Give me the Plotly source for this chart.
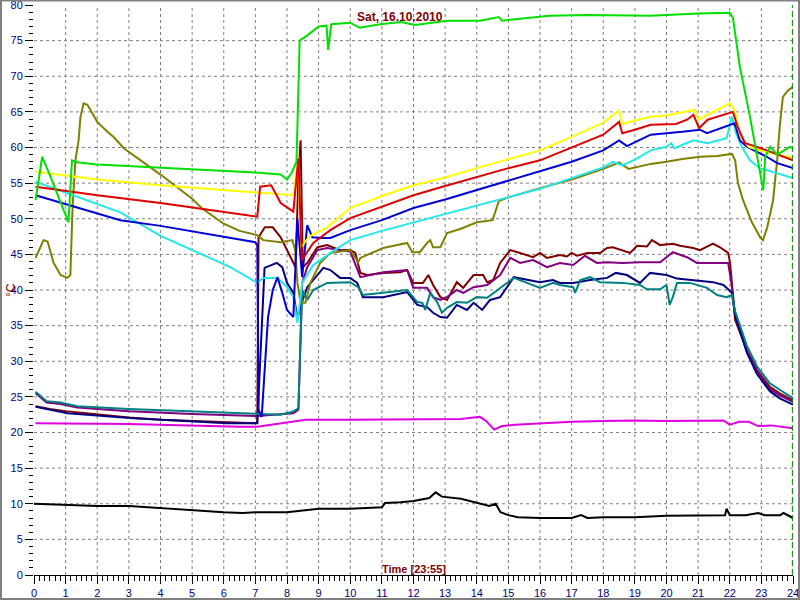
import plotly.graph_objects as go

# ---------------- data (hours, °C) ----------------
green_t = [0.05, 0.26, 0.52, 0.84, 1.09, 1.2, 1.4, 2, 3, 4, 5, 6, 7, 7.8, 8.0, 8.15, 8.3, 8.4, 8.6, 9.0, 9.25, 9.3, 9.4, 10.0, 10.3, 10.95, 11.6, 12.05, 12.6, 13.06, 14.1, 14.7, 14.8, 15.8, 16.3, 17.5, 19.5, 21.0, 22.0, 22.1, 22.32, 22.64, 23.06, 23.12, 23.28, 23.5, 23.7, 23.9, 24]
green_v = [52.6, 58.7, 55.9, 52.4, 49.5, 58.2, 57.9, 57.6, 57.4, 57.2, 57.0, 56.7, 56.5, 56.2, 55.5, 56.5, 58.0, 75.0, 75.6, 77.0, 77.1, 73.7, 77.3, 77.5, 76.8, 77.3, 77.6, 77.2, 77.5, 77.8, 77.8, 78.3, 77.8, 78.3, 78.5, 78.6, 78.5, 78.8, 78.9, 78.2, 71.3, 64.3, 54.0, 58.7, 60.1, 59.0, 59.6, 60.1, 59.9]

yellow_t = [0.05, 2, 4, 6, 7, 8.2, 8.35, 8.45, 8.7, 9.27, 10, 11, 12, 13, 14, 15, 16, 17, 18, 18.5, 18.6, 19, 19.5, 20, 20.9, 21.0, 21.5, 22.0, 22.15, 22.35, 22.6, 23, 23.5, 24]
yellow_v = [56.6, 55.5, 54.7, 54.0, 53.7, 53.3, 58.7, 46.0, 47.5, 48.8, 51.5, 53.2, 54.7, 55.8, 57.1, 58.3, 59.6, 61.5, 63.5, 65.2, 63.3, 63.8, 64.3, 64.5, 65.3, 63.9, 65.0, 66.2, 65.3, 61.5, 60.1, 59.5, 59.0, 58.6]

red_t = [0.05, 2, 4, 6, 6.9, 7.06, 7.15, 7.5, 7.8, 8.2, 8.36, 8.47, 8.83, 9.37, 10, 11, 12, 13, 14, 15, 16, 17, 18, 18.5, 18.6, 19, 19.5, 20.3, 20.65, 20.85, 21.03, 21.3, 22.0, 22.1, 22.25, 22.48, 22.64, 23.17, 24]
red_v = [54.5, 53.3, 52.2, 50.9, 50.4, 50.3, 54.5, 54.7, 52.2, 51.0, 58.5, 44.2, 46.6, 48.4, 50.1, 51.7, 53.3, 54.6, 55.9, 57.1, 58.2, 60.0, 61.8, 63.6, 62.0, 62.5, 63.2, 63.3, 63.9, 64.6, 62.7, 63.9, 64.8, 65.0, 62.9, 60.6, 60.4, 59.6, 58.2]

blue_t = [0.05, 2.73, 4, 6, 7.0, 7.06, 7.1, 7.2, 7.4, 7.55, 7.7, 7.85, 8.0, 8.2, 8.33, 8.48, 8.64, 8.8, 9.05, 9.37, 9.78, 10, 11, 12, 13, 14, 15, 16, 17, 18, 18.5, 18.75, 19.5, 20.5, 21.06, 21.28, 22.0, 22.15, 22.32, 22.54, 22.86, 23.17, 23.5, 24]
blue_v = [53.3, 49.8, 49.0, 47.5, 46.7, 46.3, 23.2, 22.2, 36.2, 40.0, 41.8, 39.6, 37.2, 36.2, 50.0, 41.8, 49.1, 47.4, 47.3, 47.3, 48.0, 48.4, 49.8, 51.5, 52.7, 54.0, 55.3, 56.6, 58.0, 59.6, 61.0, 60.2, 61.8, 62.2, 62.5, 62.0, 63.2, 63.4, 61.0, 60.1, 59.4, 58.7, 57.8, 57.1]

cyan_t = [0.05, 2.73, 4, 6.21, 7.06, 7.25, 7.7, 8.0, 8.2, 8.33, 8.48, 8.83, 9.37, 10, 11, 12, 13, 14, 15, 16, 17, 18, 18.3, 18.6, 19, 19.5, 20.0, 20.15, 20.25, 20.65, 20.85, 21.3, 21.9, 22.07, 22.2, 22.38, 22.64, 22.95, 23.5, 24]
cyan_v = [55.2, 50.9, 47.6, 43.2, 41.0, 41.7, 41.7, 40.4, 39.0, 35.4, 41.0, 43.5, 45.2, 47.0, 48.3, 49.5, 50.7, 51.9, 53.0, 54.2, 55.7, 57.2, 58.0, 57.5, 58.3, 59.6, 60.1, 60.6, 59.9, 60.6, 61.0, 60.6, 61.3, 64.3, 62.0, 60.1, 58.2, 57.1, 56.4, 55.7]

olive_t = [0.05, 0.3, 0.43, 0.62, 0.84, 1.05, 1.15, 1.22, 1.31, 1.41, 1.47, 1.57, 1.69, 2.0, 2.32, 2.51, 2.84, 4, 5, 5.3, 6, 6.5, 7.06, 7.25, 7.8, 8.17, 8.26, 8.33, 8.43, 8.58, 8.74, 9.05, 9.37, 10.0, 10.25, 10.32, 11.04, 11.8, 11.96, 12.2, 12.43, 12.53, 12.62, 12.85, 13.06, 13.5, 14, 14.5, 14.7, 15, 16, 17, 18, 18.5, 18.8, 19.5, 20, 20.5, 21.06, 21.6, 22.07, 22.17, 22.26, 22.42, 22.7, 22.96, 23.05, 23.18, 23.27, 23.37, 23.5, 23.58, 23.68, 23.84, 24]
olive_v = [44.5, 47.0, 46.8, 43.8, 42.1, 41.7, 42.1, 51.6, 58.2, 61.0, 64.3, 66.2, 66.0, 63.6, 62.2, 61.5, 59.9, 56.2, 52.8, 51.5, 49.3, 48.3, 47.7, 47.0, 46.7, 47.0, 45.6, 41.0, 38.2, 38.2, 41.0, 43.8, 45.2, 45.6, 43.9, 44.5, 45.9, 46.6, 45.3, 45.3, 46.6, 47.0, 46.0, 46.0, 48.0, 48.6, 49.5, 49.8, 52.5, 53.0, 54.3, 55.5, 57.0, 57.9, 57.0, 57.7, 58.0, 58.4, 58.7, 58.8, 59.1, 58.2, 55.0, 52.6, 49.5, 47.4, 47.0, 48.7, 50.5, 52.6, 58.2, 62.9, 67.1, 68.0, 68.5]

maroon_t = [0.05, 0.5, 1, 2, 3, 4, 5, 6, 7.0, 7.06, 7.1, 7.3, 7.55, 7.8, 8.0, 8.27, 8.36, 8.43, 8.5, 8.64, 8.96, 9.27, 9.68, 10.0, 10.16, 10.32, 10.54, 11.04, 11.58, 11.8, 11.99, 12.3, 12.47, 12.62, 12.85, 13.06, 13.37, 13.57, 13.9, 14.2, 14.33, 14.52, 14.74, 15.06, 15.37, 15.78, 16.0, 16.22, 16.63, 16.85, 17.0, 17.17, 17.5, 17.9, 18.12, 18.3, 18.85, 19.07, 19.38, 19.54, 19.8, 20.2, 20.43, 20.84, 21.06, 21.47, 21.69, 21.95, 22.01, 22.17, 22.54, 22.86, 23.27, 23.58, 24]
maroon_v = [23.7, 23.3, 23.0, 22.5, 22.1, 21.8, 21.6, 21.4, 21.3, 21.4, 47.4, 48.8, 48.8, 47.4, 45.6, 43.2, 55.9, 61.0, 43.2, 43.8, 46.0, 46.3, 45.6, 45.6, 45.2, 42.4, 42.1, 42.4, 42.5, 42.8, 41.0, 41.0, 42.1, 40.7, 39.0, 38.6, 41.1, 40.3, 42.1, 42.1, 41.1, 41.4, 43.8, 45.6, 45.2, 44.6, 45.2, 44.5, 44.9, 44.7, 45.2, 44.8, 45.2, 45.2, 45.9, 46.0, 45.2, 46.2, 46.1, 47.0, 46.3, 46.5, 46.2, 45.9, 45.6, 46.5, 46.0, 45.2, 43.8, 35.8, 31.6, 28.8, 26.4, 25.5, 24.5]

purple_t = [0.05, 0.4, 0.84, 1.37, 3, 5, 7.06, 8.2, 8.36, 8.48, 8.64, 8.96, 9.27, 9.68, 10.0, 10.32, 11.04, 11.8, 11.99, 12.43, 12.62, 12.85, 13.06, 13.37, 13.57, 13.9, 14.33, 14.74, 15.06, 15.37, 15.78, 16.22, 16.63, 17.05, 17.42, 17.8, 18.12, 18.6, 19.16, 19.8, 20.2, 20.65, 20.96, 21.47, 21.95, 22.05, 22.17, 22.54, 22.86, 23.27, 23.58, 24]
purple_v = [25.5, 24.2, 24.0, 23.5, 23.0, 22.6, 22.3, 22.7, 23.2, 41.0, 43.2, 45.6, 45.9, 45.6, 45.4, 41.8, 42.5, 42.8, 40.3, 40.3, 39.0, 38.6, 39.0, 40.0, 39.6, 40.4, 40.7, 42.1, 44.5, 43.8, 44.2, 43.2, 43.8, 43.5, 44.8, 43.8, 43.9, 43.8, 43.9, 43.9, 45.3, 44.6, 43.8, 43.8, 43.8, 41.0, 36.5, 31.4, 28.6, 26.1, 25.2, 24.3]

navy_t = [0.05, 1.06, 3.14, 6.1, 7.06, 7.15, 7.29, 7.68, 7.85, 8.0, 8.2, 8.33, 8.45, 8.64, 8.83, 9.15, 9.37, 9.68, 10.0, 10.22, 10.4, 11.04, 11.8, 12.12, 12.43, 12.62, 12.85, 13.06, 13.37, 13.69, 13.9, 14.17, 14.42, 14.74, 15.17, 15.59, 16.0, 16.41, 16.63, 17.05, 17.58, 18.12, 18.4, 18.75, 19.16, 19.48, 20.0, 20.33, 20.74, 21.47, 21.8, 22.07, 22.17, 22.54, 22.86, 23.27, 23.58, 24]
navy_v = [23.6, 22.7, 22.0, 21.3, 21.3, 30.0, 43.1, 43.8, 43.2, 41.0, 39.6, 36.0, 38.0, 40.4, 41.4, 43.1, 42.8, 41.7, 41.7, 41.0, 39.0, 39.0, 39.7, 37.9, 37.6, 36.8, 36.2, 36.1, 37.9, 37.2, 38.2, 37.2, 38.6, 39.0, 41.8, 41.4, 41.1, 41.4, 41.0, 41.0, 41.4, 41.7, 42.4, 42.1, 41.0, 42.4, 42.1, 41.6, 41.4, 41.1, 40.7, 39.6, 36.5, 31.2, 28.2, 25.8, 24.8, 23.9]

teal_t = [0.05, 0.4, 0.84, 1.37, 3, 5, 7.0, 7.78, 8.17, 8.36, 8.48, 8.64, 8.83, 9.27, 10.0, 10.25, 10.4, 11.04, 11.8, 12.12, 12.28, 12.37, 12.53, 12.75, 12.9, 13.06, 13.37, 13.69, 14.0, 14.33, 14.74, 15.17, 15.59, 16.0, 16.41, 16.63, 17.05, 17.11, 17.27, 17.58, 17.9, 18.62, 19.16, 19.38, 19.8, 20.0, 20.1, 20.2, 20.33, 20.74, 21.28, 21.6, 21.9, 22.07, 22.17, 22.54, 22.86, 23.27, 23.58, 24]
teal_v = [25.7, 24.4, 24.2, 23.7, 23.3, 23.0, 22.6, 22.5, 22.9, 23.4, 40.0, 38.6, 40.0, 41.0, 41.1, 40.4, 39.3, 39.6, 40.0, 38.3, 38.2, 37.2, 39.6, 38.3, 36.8, 37.5, 38.3, 38.2, 39.0, 38.9, 40.3, 41.7, 41.0, 40.3, 41.0, 40.7, 40.4, 39.6, 41.4, 41.8, 41.1, 41.0, 40.7, 40.1, 40.1, 40.7, 37.9, 39.0, 41.0, 41.0, 40.3, 39.3, 39.0, 39.3, 37.0, 32.2, 29.3, 26.9, 26.0, 24.8]

magenta_t = [0.05, 3, 6.5, 7.06, 7.5, 8.2, 8.6, 10, 12, 13.5, 14.1, 14.3, 14.55, 14.8, 15.2, 16, 17, 18, 19, 20, 21, 21.8, 22.0, 22.3, 22.6, 22.9, 23.3, 23.7, 24]
magenta_v = [21.3, 21.2, 20.8, 20.8, 21.1, 21.5, 21.8, 21.8, 21.8, 21.9, 22.2, 21.6, 20.4, 20.9, 21.1, 21.3, 21.5, 21.6, 21.7, 21.6, 21.7, 21.7, 21.1, 21.5, 21.5, 20.9, 21.0, 20.8, 20.6]

black_t = [0.0, 1, 2, 3, 4, 5, 6, 6.6, 7, 8, 9, 10, 11, 11.1, 11.6, 12.0, 12.5, 12.7, 12.9, 13.5, 14.1, 14.4, 14.6, 14.75, 15.0, 15.3, 16, 17, 17.3, 17.5, 18, 19, 20, 21, 21.85, 21.9, 22.0, 22.5, 22.9, 23.1, 23.6, 23.7, 24]
black_v = [10.0, 9.8, 9.7, 9.7, 9.4, 9.0, 8.8, 8.7, 8.8, 8.8, 9.3, 9.3, 9.5, 10.1, 10.2, 10.4, 10.8, 11.6, 11.0, 10.7, 10.1, 9.7, 10.0, 8.8, 8.4, 8.1, 8.0, 8.0, 8.4, 8.0, 8.1, 8.1, 8.3, 8.4, 8.4, 9.3, 8.4, 8.4, 8.7, 8.4, 8.4, 8.7, 8.0]

y_ticks = list(range(0, 85, 5))
x_ticks = list(range(0, 25))
title_text = "Sat, 16.10.2010"
time_label = "Time [23:55]"
unit_label = "°C"
cursor_time = 23.98

series = [
    (maroon_t, maroon_v, "#800000"),
    (purple_t, purple_v, "#800080"),
    (navy_t, navy_v, "#000080"),
    (teal_t, teal_v, "#008080"),
    (olive_t, olive_v, "#808000"),
    (cyan_t, cyan_v, "#22e8e8"),
    (blue_t, blue_v, "#0000d8"),
    (yellow_t, yellow_v, "#ffff00"),
    (red_t, red_v, "#e00000"),
    (green_t, green_v, "#00e000"),
    (magenta_t, magenta_v, "#e000e0"),
    (black_t, black_v, "#000000"),
]

fig = go.Figure()
for t, v, c in series:
    fig.add_trace(go.Scatter(x=t, y=v, mode="lines", line=dict(color=c, width=2), showlegend=False, hoverinfo="skip"))

L, R, T, B = 34, 7, 5, 25
W, H = 800, 600
pw, ph = W - L - R, H - T - B

shapes = []
grid = dict(color="#808080", width=1, dash="3px,3px")
for xv in x_ticks[1:-1]:
    shapes.append(dict(type="line", xref="x", yref="paper", x0=xv, x1=xv, y0=0, y1=1, line=grid, layer="below"))
for yv in y_ticks[1:-1]:
    shapes.append(dict(type="line", xref="paper", yref="y", x0=0, x1=1, y0=yv, y1=yv, line=grid, layer="below"))
shapes.append(dict(type="line", xref="x", yref="paper", x0=cursor_time, x1=cursor_time, y0=0, y1=1,
                   line=dict(color="#008000", width=1, dash="6px,3px")))
# outer frame
shapes.append(dict(type="rect", xref="paper", yref="paper",
                   x0=-(L - 1) / pw, x1=1 + (R - 1) / pw, y0=-(B - 1) / ph, y1=1 + (T - 0.5) / ph,
                   line=dict(color="#808080", width=2)))

font_axis = dict(family="Arial, Liberation Sans, sans-serif", size=11, color="#000080")
lab_font = "Arial, Liberation Sans, sans-serif"
fig.update_layout(
    width=W, height=H,
    margin=dict(l=L, r=R, t=T, b=B),
    paper_bgcolor="white", plot_bgcolor="white",
    shapes=shapes,
    xaxis=dict(range=[0, 24], tickvals=x_ticks, ticks="outside", ticklen=8, tickcolor="black", tickwidth=1,
               showgrid=False, zeroline=False, showline=True, linecolor="black", linewidth=1, automargin=False,
               ticklabeloverflow="allow",
               tickfont=font_axis, minor=dict(dtick=1/6, ticks="outside", ticklen=5, tickcolor="black", showgrid=False)),
    yaxis=dict(range=[0, 80], tickvals=y_ticks, ticks="outside", ticklen=8, tickcolor="black", tickwidth=1,
               showgrid=False, zeroline=False, showline=False, automargin=False,
               ticklabeloverflow="allow",
               tickfont=font_axis, minor=dict(dtick=1, ticks="outside", ticklen=4, tickcolor="black", showgrid=False)),
    annotations=[
        dict(text="<b>" + title_text + "</b>", xref="paper", yref="paper", x=(400 - L) / pw, y=1 - (17 - T) / ph,
             xanchor="center", yanchor="middle",
             showarrow=False, font=dict(family=lab_font, size=12, color="#800000")),
        dict(text="<b>" + time_label + "</b>", xref="paper", yref="paper", x=(414 - L) / pw, y=(H - B - 569) / ph,
             xanchor="center", yanchor="middle",
             showarrow=False, font=dict(family=lab_font, size=11, color="#800000")),
        dict(text=unit_label, xref="paper", yref="paper", x=(11 - L) / pw, y=1 - (290 - T) / ph, textangle=-90,
             xanchor="center", yanchor="middle",
             showarrow=False, font=dict(family=lab_font, size=12, color="#800000")),
    ],
)

fig.write_html("out.html", config={"displayModeBar": False},
               post_script="document.body.style.margin='0';document.body.style.overflow='hidden';")
